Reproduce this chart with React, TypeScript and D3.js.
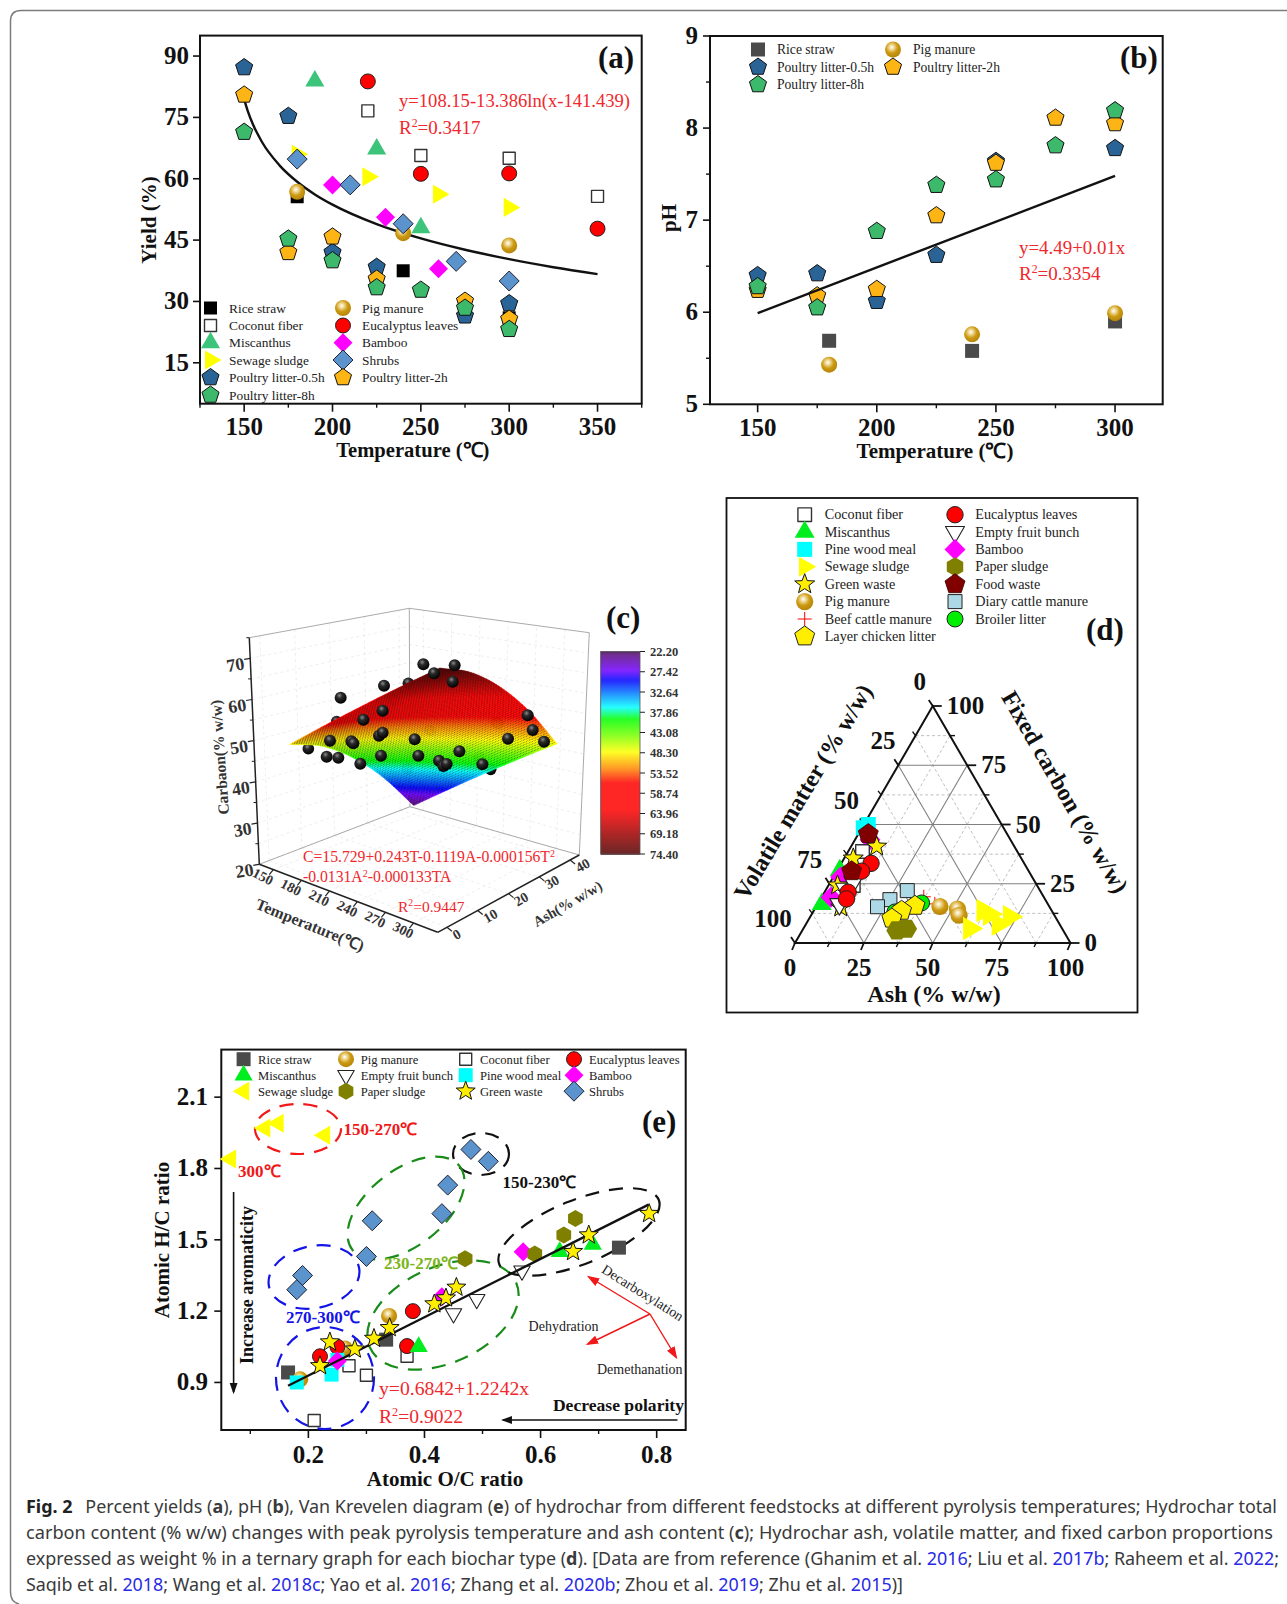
import React, { useMemo } from "react";
import * as d3 from "d3";

// ---------- Panel (a): yield vs temperature ----------
const aRiceT = [180, 240, 300]; const aRiceY = [55.6, 37.5, 26];
const aCocoT = [220, 250, 300, 350]; const aCocoY = [76.6, 65.7, 65, 55.7];
const aMiscT = [190, 225, 250]; const aMiscY = [83.9, 67.3, 48];
const aSewT = [180, 220, 260, 300]; const aSewY = [66, 60.5, 56.2, 53];
const aP05T = [150, 175, 200, 225, 275, 300]; const aP05Y = [87.2, 75.3, 42, 38.4, 26.5, 29.5];
const aP2T = [150, 175, 200, 225, 275, 300]; const aP2Y = [80.5, 42, 45.8, 35.5, 30.1, 25.7];
const aP8T = [150, 175, 200, 225, 250, 275, 300]; const aP8Y = [71.4, 45.3, 40, 33.4, 32.8, 28.4, 23.2];
const aPigT = [180, 240, 300]; const aPigY = [56.8, 46.7, 43.7];
const aEucT = [220, 250, 300, 350]; const aEucY = [83.8, 61.2, 61.3, 47.8];
const aBamT = [200, 230, 260]; const aBamY = [58.5, 50.6, 38];
const aShrT = [180, 210, 240, 270, 300]; const aShrY = [64.8, 58.5, 49, 39.8, 35];
const aFitT = [150, 152, 155, 160, 170, 180, 190, 200, 225, 250, 275, 300, 325, 350];
const aFitY = [79.4, 76.6, 73.25, 69.05, 63.28, 59.26, 56.17, 53.67, 48.91, 45.41, 42.64, 40.34, 38.37, 36.67];
const aXTicks = [150, 200, 250, 300, 350];
const aXMinor = [125, 175, 225, 275, 325, 375];
const aYTicks = [15, 30, 45, 60, 75, 90];

// ---------- Panel (b): pH vs temperature ----------
const bRiceT = [180, 240, 300]; const bRiceY = [5.69, 5.58, 5.9];
const bPigT = [180, 240, 300]; const bPigY = [5.43, 5.76, 5.99];
const bP05T = [150, 175, 200, 225, 250, 300]; const bP05Y = [6.4, 6.42, 6.12, 6.62, 7.64, 7.78];
const bP2T = [150, 175, 200, 225, 250, 275, 300]; const bP2Y = [6.24, 6.18, 6.25, 7.05, 7.62, 8.11, 8.05];
const bP8T = [150, 175, 200, 225, 250, 275, 300]; const bP8Y = [6.28, 6.05, 6.88, 7.38, 7.44, 7.81, 8.19];
const bFitT = [150, 300]; const bFitY = [5.99, 7.48];
const bXTicks = [150, 200, 250, 300];
const bXMinor = [175, 225, 275];
const bYTicks = [5, 6, 7, 8, 9];
const bYMinor = [5.5, 6.5, 7.5, 8.5];

// ---------- Panel (c): response surface ----------
const cTGrid = [150, 175, 200, 225, 250, 275, 300];
const cAGrid = [0, 10, 20, 30, 40];
const cZ150 = [48.67, 46.04, 40.79, 32.92, 22.44];
const cZ175 = [53.48, 50.82, 45.54, 37.63, 27.11];
const cZ200 = [58.09, 55.39, 50.08, 42.14, 31.59];
const cZ225 = [62.51, 59.78, 54.43, 46.46, 35.88];
const cZ250 = [66.73, 63.97, 58.59, 50.59, 39.96];
const cZ275 = [70.76, 67.96, 62.55, 54.51, 43.86];
const cZ300 = [74.59, 71.76, 66.31, 58.25, 47.56];
const cZRows = [cZ150, cZ175, cZ200, cZ225, cZ250, cZ275, cZ300];
const cZTicks = [20, 30, 40, 50, 60, 70];
const cZMinor = [25, 35, 45, 55, 65, 75];
const cTTicks = [150, 180, 210, 240, 270, 300];
const cATicks = [0, 10, 20, 30, 40];
const cBarLabels = ["22.20", "27.42", "32.64", "37.86", "43.08", "48.30", "53.52", "58.74", "63.96", "69.18", "74.40"];
const cBarValues = [22.2, 23, 27, 29.5, 33, 36.5, 39.5, 44, 48, 52.5, 56, 63, 69, 74.4];
const cBarColors = ["#3a0a50", "#5a0a80", "#7000ff", "#0000ff", "#0080ff", "#00ffff", "#00ff00", "#80ff00", "#ffff00", "#ff8000", "#ff0000", "#ff0000", "#a00000", "#500000"];
// balls on a 1500 x 1140 picture grid
const cBehindU = [440, 610, 355, 655, 720, 918, 925, 867, 902, 652];
const cBehindV = [395, 330, 476, 280, 422, 398, 402, 501, 538, 536];
const cFrontU = [452, 700, 794, 732, 788, 582, 578, 520, 420, 410, 445, 484, 490, 511, 567, 578, 573, 674, 685, 747, 760, 770, 808, 877, 954, 1013, 1028, 1062];
const cFrontV = [323, 223, 226, 250, 275, 287, 362, 389, 452, 500, 503, 454, 460, 521, 437, 428, 497, 448, 497, 512, 528, 522, 484, 523, 446, 376, 420, 455];

// ---------- Panel (d): ternary (fixed carbon, ash) ----------
const dMiscF = [16.4, 30.7]; const dMiscA = [1.5, 0.9];
const dBamF = [19.3, 27.9, 43.6]; const dBamA = [3.4, 2.6, 5.4];
const dPineF = [50, 48.6]; const dPineA = [1.6, 0.5];
const dCocoF = [38.6, 24.3]; const dCocoA = [5.2, 9];
const dStarF = [40.7, 35.7, 15, 24.3]; const dStarA = [9.3, 3.3, 9.1, 3.3];
const dEfbF = [22.9, 25.7, 16.4]; const dEfbA = [6.7, 8.3, 7.9];
const dEucF = [33.6, 30.3, 21.4, 18.6]; const dEucA = [10.8, 9, 8.6, 9.4];
const dFoodF = [46, 30.3]; const dFoodA = [3.6, 5.4];
const dDairyF = [22.1, 18.3, 15.3]; const dDairyA = [29.7, 25.3, 22.3];
const dBroF = [16.9, 13.1, 13.6]; const dBroA = [37.5, 29.7, 31.3];
const dLayF = [15.7, 13.6, 10.3]; const dLayA = [35.7, 31.9, 30];
const dPapF = [5.3, 6]; const dPapA = [34.3, 37.5];
const dPigF = [15.4, 14.3, 11.7]; const dPigA = [44.9, 51.8, 53.7];
const dBeefF = [19.5, 16.5]; const dBeefA = [37, 42.5];
const dSewF = [6.1, 13.6, 7.9, 11.1, 12.1]; const dSewA = [60.4, 61.5, 69.9, 72.4, 64.6];
const dMajor = [25, 50, 75];
const dDashed = [12.5, 37.5, 62.5, 87.5];
const dTickLabels = [0, 25, 50, 75, 100];

// ---------- Panel (e): Van Krevelen ----------
const eRiceX = [0.165, 0.334, 0.735]; const eRiceY = [0.942, 1.08, 1.467];
const ePigX = [0.186, 0.263, 0.339]; const ePigY = [0.913, 1.043, 1.18];
const eCocoX = [0.21, 0.27, 0.3, 0.37]; const eCocoY = [0.74, 0.97, 0.93, 1.01];
const eEucX = [0.22, 0.25, 0.37, 0.38]; const eEucY = [1.01, 1.05, 1.053, 1.2];
const eMiscX = [0.39, 0.633, 0.69]; const eMiscY = [1.05, 1.45, 1.48];
const eEfbX = [0.45, 0.49, 0.568]; const eEfbY = [1.19, 1.25, 1.37];
const ePineX = [0.18, 0.24, 0.25]; const ePineY = [0.9, 0.933, 0.995];
const eBamX = [0.25, 0.43, 0.57]; const eBamY = [0.99, 1.26, 1.45];
const eSewX = [0.066, 0.125, 0.148, 0.228]; const eSewY = [1.84, 1.97, 1.99, 1.94];
const ePapX = [0.47, 0.59, 0.64, 0.66]; const ePapY = [1.42, 1.44, 1.52, 1.59];
const eStarX = [0.22, 0.237, 0.28, 0.313, 0.34, 0.417, 0.437, 0.455, 0.656, 0.683, 0.787];
const eStarY = [0.97, 1.07, 1.04, 1.085, 1.13, 1.23, 1.255, 1.3, 1.45, 1.52, 1.61];
const eShrX = [0.18, 0.19, 0.3, 0.31, 0.43, 0.44, 0.48, 0.51]; const eShrY = [1.29, 1.35, 1.43, 1.58, 1.61, 1.73, 1.88, 1.83];
const eFitX = [0.165, 0.786]; const eFitY = [0.886, 1.648];
const eXTicks = [0.2, 0.4, 0.6, 0.8];
const eXMinor = [0.1, 0.3, 0.5, 0.7];
const eYTicks = [0.9, 1.2, 1.5, 1.8, 2.1];

// ---------- Styles ----------
const SERIF = "'Liberation Serif','Times New Roman',serif";
const reg = (n: number, r: number, start: number, ry = r) => {
  const pts: string[] = [];
  for (let i = 0; i < n; i++) {
    const a = ((start + (i * 360) / n) * Math.PI) / 180;
    pts.push(`${(r * Math.cos(a)).toFixed(2)},${(ry * Math.sin(a)).toFixed(2)}`);
  }
  return "M" + pts.join("L") + "Z";
};
const starPath = (r: number) => {
  const pts: string[] = [];
  for (let i = 0; i < 10; i++) {
    const a = ((-90 + i * 36) * Math.PI) / 180;
    const q = i % 2 ? r * 0.42 : r;
    pts.push(`${(q * Math.cos(a)).toFixed(2)},${(q * Math.sin(a)).toFixed(2)}`);
  }
  return "M" + pts.join("L") + "Z";
};
type Spec = { d?: string; r?: number; fill: string; stroke?: string; sw?: number; plus?: number };
const sq = (h: number) => `M${-h},${-h}H${h}V${h}H${-h}Z`;
const S = {
  riceA: { d: sq(6.5), fill: "#000" },
  rice: { d: sq(7), fill: "#4a4a4a" },
  coco: { d: sq(6), fill: "#fff", stroke: "#333", sw: 1.4 },
  miscA: { d: reg(3, 11, -90), fill: "#3cc47a" },
  miscE: { d: reg(3, 10.5, -90), fill: "#00ee20" },
  sewR: { d: reg(3, 11, 0), fill: "#ffff00" },
  sewL: { d: reg(3, 11, 180), fill: "#ffff00" },
  p05: { d: reg(5, 9, -90), fill: "#2a6496", stroke: "#111", sw: 1 },
  p2: { d: reg(5, 9, -90), fill: "#fdb515", stroke: "#111", sw: 1 },
  p8: { d: reg(5, 9, -90), fill: "#3cb96b", stroke: "#111", sw: 1 },
  pig: { r: 8, fill: "url(#ballGold)" },
  euc: { r: 7.5, fill: "#ff0000", stroke: "#222", sw: 1 },
  bam: { d: reg(4, 9.5, -90), fill: "#ff00ff" },
  shr: { d: reg(4, 10, -90), fill: "#5b93cc", stroke: "#223", sw: 1 },
  pine: { d: sq(7), fill: "#00ffff" },
  efb: { d: reg(3, 9.5, 90), fill: "#fff", stroke: "#222", sw: 1.1 },
  pap: { d: reg(6, 8.5, -90), fill: "#808000" },
  star: { d: starPath(10), fill: "#ffee00", stroke: "#111", sw: 1 },
  // panel (d) draws its marks larger
  dCoco: { d: sq(6.8), fill: "#fff", stroke: "#333", sw: 1.4 },
  dMisc: { d: reg(3, 11.5, -90), fill: "#00ee20" },
  dPine: { d: sq(7.5), fill: "#00ffff" },
  dSew: { d: reg(3, 13.5, 0), fill: "#ffff00" },
  dStar: { d: starPath(10.5), fill: "#ffee00", stroke: "#111", sw: 1 },
  dPig: { r: 8.6, fill: "url(#ballGold)" },
  dEuc: { r: 8.2, fill: "#ff0000", stroke: "#222", sw: 1 },
  dEfb: { d: reg(3, 11, 90), fill: "#fff", stroke: "#222", sw: 1.1 },
  dBam: { d: reg(4, 10.5, -90), fill: "#ff00ff" },
  dPap: { d: reg(6, 10.5, 0), fill: "#808000" },
  food: { d: reg(5, 10.5, -90), fill: "#800000", stroke: "#400000", sw: 0.8 },
  dairy: { d: sq(7), fill: "#add8e6", stroke: "#222", sw: 1 },
  bro: { r: 8, fill: "#00ee00", stroke: "#222", sw: 1 },
  lay: { d: reg(5, 10.5, -90), fill: "#ffee00", stroke: "#222", sw: 1 },
  beef: { plus: 7, fill: "none", stroke: "#ff0000", sw: 1 },
} as Record<string, Spec>;

const Mark = ({ s, x, y }: { s: Spec; x: number; y: number }) => {
  if (s.plus)
    return <path transform={`translate(${x},${y})`} d={`M${-s.plus},0H${s.plus}M0,${-s.plus}V${s.plus}`} stroke={s.stroke} strokeWidth={s.sw} fill="none" />;
  if (s.r) return <circle cx={x} cy={y} r={s.r} fill={s.fill} stroke={s.stroke} strokeWidth={s.sw} />;
  return <path transform={`translate(${x},${y})`} d={s.d} fill={s.fill} stroke={s.stroke} strokeWidth={s.sw} strokeLinejoin="round" />;
};
const Series = ({ s, xs, ys, fx, fy }: any) => (
  <g>{xs.map((v: number, i: number) => <Mark key={i} s={s} x={fx(v)} y={fy(ys[i])} />)}</g>
);
const T = ({ x, y, children, size = 13, bold = false, anchor = "start", fill = "#111", rot, ...rest }: any) => (
  <text x={x} y={y} fontSize={size} fontWeight={bold ? 700 : 400} textAnchor={anchor} fill={fill} fontFamily={SERIF}
    transform={rot !== undefined ? `rotate(${rot} ${x} ${y})` : undefined} {...rest}>{children}</text>
);
const R2 = ({ x, y, v, size = 18, fill = "#f0282d" }: any) => (
  <T x={x} y={y} size={size} fill={fill}>R<tspan dy={-size * 0.36} fontSize={size * 0.62}>2</tspan><tspan dy={size * 0.36}>={v}</tspan></T>
);
const Legend = ({ items, size = 13 }: { items: [Spec, string, number, number, number][]; size?: number }) => (
  <g>{items.map(([s, label, mx, tx, y], i) => (
    <g key={i}><Mark s={s} x={mx} y={y} /><T x={tx} y={y + 4.5} size={size} fill="#222">{label}</T></g>
  ))}</g>
);

const Frame = ({ fx, fy, xT, xM, yT, yM = [], yFmt = (v: number) => String(v), xFmt = (v: number) => String(v), xLabelY, yLabelX }: any) => {
  const [x0, x1] = fx.range(); const [y0, y1] = fy.range();
  return (
    <g>
      <rect x={x0} y={y1} width={x1 - x0} height={y0 - y1} fill="none" stroke="#111" strokeWidth={2} />
      {xT.map((v: number) => <line key={v} x1={fx(v)} x2={fx(v)} y1={y0} y2={y0 + 8} stroke="#111" strokeWidth={1.6} />)}
      {xM.map((v: number) => <line key={v} x1={fx(v)} x2={fx(v)} y1={y0} y2={y0 + 4} stroke="#111" strokeWidth={1.4} />)}
      {yT.map((v: number) => <line key={v} x1={x0} x2={x0 - 7} y1={fy(v)} y2={fy(v)} stroke="#111" strokeWidth={1.6} />)}
      {yM.map((v: number) => <line key={v} x1={x0} x2={x0 - 4} y1={fy(v)} y2={fy(v)} stroke="#111" strokeWidth={1.4} />)}
      {xT.map((v: number) => <T key={v} x={fx(v)} y={xLabelY} size={25} bold anchor="middle">{xFmt(v)}</T>)}
      {yT.map((v: number) => <T key={v} x={yLabelX} y={fy(v) + 8} size={25} bold anchor="end">{yFmt(v)}</T>)}
    </g>
  );
};

// ---------- Panel (a) ----------
const PanelA = () => {
  const fx = d3.scaleLinear().domain([125, 375]).range([200, 641.7]);
  const fy = d3.scaleLinear().domain([5, 95]).range([403.7, 35.6]);
  const line = d3.line<number>().x((d) => fx(d)).y((_, i) => fy(aFitY[i])).curve(d3.curveMonotoneX);
  const rows = [308, 325.5, 342.7, 360, 377.5, 395];
  const lx = 210.5, tx = 229, lx2 = 343, tx2 = 362;
  return (
    <g>
      <Frame fx={fx} fy={fy} xT={aXTicks} xM={aXMinor} yT={aYTicks} xLabelY={435} yLabelX={189} />
      <path d={line(aFitT) as string} fill="none" stroke="#111" strokeWidth={2.4} />
      <Series s={S.riceA} xs={aRiceT} ys={aRiceY} fx={fx} fy={fy} />
      <Series s={S.coco} xs={aCocoT} ys={aCocoY} fx={fx} fy={fy} />
      <Series s={S.miscA} xs={aMiscT} ys={aMiscY} fx={fx} fy={fy} />
      <Series s={S.sewR} xs={aSewT} ys={aSewY} fx={fx} fy={fy} />
      <Series s={S.p05} xs={aP05T} ys={aP05Y} fx={fx} fy={fy} />
      <Series s={S.p2} xs={aP2T} ys={aP2Y} fx={fx} fy={fy} />
      <Series s={S.p8} xs={aP8T} ys={aP8Y} fx={fx} fy={fy} />
      <Series s={S.pig} xs={aPigT} ys={aPigY} fx={fx} fy={fy} />
      <Series s={S.euc} xs={aEucT} ys={aEucY} fx={fx} fy={fy} />
      <Series s={S.bam} xs={aBamT} ys={aBamY} fx={fx} fy={fy} />
      <Series s={S.shr} xs={aShrT} ys={aShrY} fx={fx} fy={fy} />
      <Legend size={13.4} items={[
        [S.riceA, "Rice straw", lx, tx, rows[0]], [S.coco, "Coconut fiber", lx, tx, rows[1]], [S.miscA, "Miscanthus", lx, tx, rows[2]],
        [S.sewR, "Sewage sludge", lx, tx, rows[3]], [S.p05, "Poultry litter-0.5h", lx, tx, rows[4]], [S.p8, "Poultry litter-8h", lx, tx, rows[5]],
        [S.pig, "Pig manure", lx2, tx2, rows[0]], [S.euc, "Eucalyptus leaves", lx2, tx2, rows[1]], [S.bam, "Bamboo", lx2, tx2, rows[2]],
        [S.shr, "Shrubs", lx2, tx2, rows[3]], [S.p2, "Poultry litter-2h", lx2, tx2, rows[4]],
      ]} />
      <T x={399} y={107} size={18.6} fill="#f0282d">y=108.15-13.386ln(x-141.439)</T>
      <R2 x={399} y={134} v="0.3417" size={19} />
      <T x={598} y={68} size={31} bold>(a)</T>
      <T x={156} y={220} size={21} bold anchor="middle" rot={-90}>Yield (%)</T>
      <T x={412.8} y={457} size={20.6} bold anchor="middle">Temperature (℃)</T>
    </g>
  );
};

// ---------- Panel (b) ----------
const PanelB = () => {
  const fx = d3.scaleLinear().domain([130, 320]).range([710, 1162.7]);
  const fy = d3.scaleLinear().domain([5, 9]).range([404.3, 36]);
  const line = d3.line<number>().x((d) => fx(d)).y((_, i) => fy(bFitY[i]));
  const r = [49.5, 67, 84.5];
  const lx = 758, tx = 777, lx2 = 893, tx2 = 913;
  return (
    <g>
      <Frame fx={fx} fy={fy} xT={bXTicks} xM={bXMinor} yT={bYTicks} yM={bYMinor} xLabelY={436} yLabelX={698} />
      <Series s={S.rice} xs={bRiceT} ys={bRiceY} fx={fx} fy={fy} />
      <Series s={S.pig} xs={bPigT} ys={bPigY} fx={fx} fy={fy} />
      <Series s={S.p05} xs={bP05T} ys={bP05Y} fx={fx} fy={fy} />
      <Series s={S.p2} xs={bP2T} ys={bP2Y} fx={fx} fy={fy} />
      <Series s={S.p8} xs={bP8T} ys={bP8Y} fx={fx} fy={fy} />
      <path d={line(bFitT) as string} fill="none" stroke="#111" strokeWidth={2.4} />
      <Legend size={13.6} items={[
        [S.rice, "Rice straw", lx, tx, r[0]], [S.p05, "Poultry litter-0.5h", lx, tx, r[1]], [S.p8, "Poultry litter-8h", lx, tx, r[2]],
        [S.pig, "Pig manure", lx2, tx2, r[0]], [S.p2, "Poultry litter-2h", lx2, tx2, r[1]],
      ]} />
      <T x={1019} y={254} size={18.9} fill="#f0282d">y=4.49+0.01x</T>
      <R2 x={1019} y={280} v="0.3354" size={19} />
      <T x={1120} y={68} size={31} bold>(b)</T>
      <T x={676} y={218} size={21} bold anchor="middle" rot={-90}>pH</T>
      <T x={935} y={458} size={21} bold anchor="middle">Temperature (℃)</T>
    </g>
  );
};

// ---------- Panel (c) ----------
const T0 = 135, T1 = 326, A0 = -3, A1 = 43, Z0 = 20, Z1 = 75;
// projected box corners [T?][A?][Z?]
const BOX = {
  f000: [259.3, 864.3], f100: [437.7, 932.3], f110: [579.3, 855], f010: [410, 806.7],
  t000: [249.3, 637.7], t100: [438.3, 675.7], t110: [589.3, 632.7], t010: [409.3, 608.3],
};
const lerp = (a: number, b: number, t: number) => a + (b - a) * t;
const fTT = d3.scaleLinear().domain([T0, T1]).range([0, 1]);
const fTS = d3.scaleLinear().domain([135.4, 318.4]).range([0, 1]);
const fAA = d3.scaleLinear().domain([A0, A1]).range([0, 1]);
const fAS = d3.scaleLinear().domain([-6.75, 43.25]).range([0, 1]);
const fZZ = d3.scaleLinear().domain([Z0, Z1]).range([0, 1]);
const proj = (Tv: number, Av: number, Zv: number, ts: any = fTT, as: any = fAA): [number, number] => {
  const u = ts(Tv), v = as(Av), w = fZZ(Zv);
  const bi = (a: number[], b: number[], c: number[], d: number[], k: number) =>
    lerp(lerp(a[k], b[k], u), lerp(d[k], c[k], u), v);
  const out = [0, 1].map((k) => lerp(bi(BOX.f000, BOX.f100, BOX.f110, BOX.f010, k), bi(BOX.t000, BOX.t100, BOX.t110, BOX.t010, k), w));
  return [out[0], out[1]];
};
const cr = (p: number[], t: number) => {
  // Catmull-Rom through a row of read values, t in index units
  const n = p.length - 1;
  const i = Math.min(Math.max(Math.floor(t), 0), n - 1);
  const f = t - i;
  const p0 = p[i], p1 = p[i + 1];
  const pm = i > 0 ? p[i - 1] : 2 * p0 - p1;
  const pp = i + 2 <= n ? p[i + 2] : 2 * p1 - p0;
  return 0.5 * (2 * p0 + (p1 - pm) * f + (2 * pm - 5 * p0 + 4 * p1 - pp) * f * f + (3 * p0 - pm - 3 * p1 + pp) * f * f * f);
};
const surf = (ti: number, ai: number) => cr(cZRows.map((row) => cr(row, ai)), ti);

const PanelC = () => {
  const color = d3.scaleLinear<string>().domain(cBarValues).range(cBarColors).clamp(true);
  const NT = 96, NA = 72;
  const mesh = useMemo(() => {
    const quads: { d: string; c: string; o: number }[] = [];
    const grid: { p: [number, number]; z: number }[][] = [];
    const tIdx = d3.scaleLinear().domain([0, NT]).range([0, cTGrid.length - 1]);
    const aIdx = d3.scaleLinear().domain([0, NA]).range([0, cAGrid.length - 1]);
    const tVal = d3.scaleLinear().domain([0, cTGrid.length - 1]).range([cTGrid[0], cTGrid[cTGrid.length - 1]]);
    const aVal = d3.scaleLinear().domain([0, cAGrid.length - 1]).range([cAGrid[0], cAGrid[cAGrid.length - 1]]);
    for (let i = 0; i <= NT; i++) {
      const row = [];
      for (let j = 0; j <= NA; j++) {
        const z = surf(tIdx(i), aIdx(j));
        row.push({ p: proj(tVal(tIdx(i)), aVal(aIdx(j)), z, fTS, fAS), z });
      }
      grid.push(row);
    }
    for (let i = 0; i < NT; i++) for (let j = 0; j < NA; j++) {
      const a = grid[i][j], b = grid[i + 1][j], c = grid[i + 1][j + 1], e = grid[i][j + 1];
      quads.push({
        d: `M${a.p[0].toFixed(1)},${a.p[1].toFixed(1)}L${b.p[0].toFixed(1)},${b.p[1].toFixed(1)}L${c.p[0].toFixed(1)},${c.p[1].toFixed(1)}L${e.p[0].toFixed(1)},${e.p[1].toFixed(1)}Z`,
        c: color((a.z + c.z) / 2) as string,
        o: i / NT - j / NA,
      });
    }
    quads.sort((p, q) => p.o - q.o);
    let dots = "";
    for (let i = 1; i < NT; i++) for (let j = 1; j < NA; j++) {
      const p = grid[i][j].p;
      dots += `M${p[0].toFixed(1)},${p[1].toFixed(1)}h0.01`;
    }
    return { quads, dots };
  }, []);

  const P = (t: number, a: number, z: number) => proj(t, a, z);
  const L = (a: [number, number], b: [number, number], k: any) => <line x1={a[0]} y1={a[1]} x2={b[0]} y2={b[1]} {...k} />;
  const wall = { stroke: "#e6e6e6", strokeWidth: 0.7, strokeDasharray: "3 3" };
  const edge = { stroke: "#aaa", strokeWidth: 1 };
  const ax = { stroke: "#222", strokeWidth: 1.5 };
  const bu = d3.scaleLinear().domain([0, 1500]).range([190, 690]);
  const bv = d3.scaleLinear().domain([0, 1140]).range([590, 970]);
  const by = d3.scaleLinear().domain([0, cBarLabels.length - 1]).range([651.5, 854]);
  const barV = d3.scaleLinear().domain([651.5, 854]).range([22.2, 74.4]);
  return (
    <g>
      {/* walls */}
      {[...cZTicks, ...cZMinor.slice(0, 5)].map((z) => (
        <g key={z}>{L(P(T0, A0, z), P(T0, A1, z), wall)}{L(P(T0, A1, z), P(T1, A1, z), wall)}</g>
      ))}
      {cTTicks.map((t) => <g key={t}>{L(P(t, A1, Z0), P(t, A1, Z1), wall)}{L(P(t, A0, Z0), P(t, A1, Z0), wall)}</g>)}
      {cATicks.map((a) => <g key={a}>{L(P(T0, a, Z0), P(T0, a, Z1), wall)}{L(P(T0, a, Z0), P(T1, a, Z0), wall)}</g>)}
      {L(P(T0, A0, Z1), P(T0, A1, Z1), edge)}{L(P(T0, A1, Z1), P(T1, A1, Z1), edge)}
      {L(P(T0, A1, Z0), P(T0, A1, Z1), edge)}{L(P(T1, A1, Z0), P(T1, A1, Z1), edge)}
      {L(P(T0, A0, Z0), P(T0, A1, Z0), edge)}{L(P(T1, A1, Z0), P(T0, A1, Z0), edge)}
      {/* balls behind */}
      {cBehindU.map((u, i) => <circle key={i} cx={bu(u)} cy={bv(cBehindV[i])} r={5.8} fill="url(#ballBlack)" />)}
      {/* surface */}
      {mesh.quads.map((q, i) => <path key={i} d={q.d} fill={q.c} stroke={q.c} strokeWidth={0.5} />)}
      <path d={mesh.dots} stroke="#1a1a1a" strokeOpacity={0.55} strokeWidth={1.05} strokeLinecap="round" fill="none" />
      {/* balls in front */}
      {cFrontU.map((u, i) => <circle key={i} cx={bu(u)} cy={bv(cFrontV[i])} r={6} fill="url(#ballBlack)" />)}
      {/* axes */}
      {L(P(T0, A0, Z0), P(T0, A0, Z1), ax)}{L(P(T0, A0, Z0), P(T1, A0, Z0), ax)}{L(P(T1, A0, Z0), P(T1, A1, Z0), ax)}
      {cZTicks.map((z) => { const p = P(T0, A0, z); return (
        <g key={z}><line x1={p[0]} y1={p[1]} x2={p[0] - 6} y2={p[1] + 1} stroke="#222" strokeWidth={1.2} />
          <T x={p[0] - 5} y={p[1] + 11} size={18} bold anchor="end" fill="#333" rot={-9}>{z}</T></g>
      ); })}
      {cZMinor.map((z) => { const p = P(T0, A0, z); return <line key={z} x1={p[0]} y1={p[1]} x2={p[0] - 3} y2={p[1]} stroke="#222" strokeWidth={1} />; })}
      {cTTicks.map((t) => { const p = P(t, A0, Z0); return (
        <g key={t}><line x1={p[0]} y1={p[1]} x2={p[0] - 4} y2={p[1] + 5} stroke="#222" strokeWidth={1.2} />
          <T x={p[0] - 3} y={p[1] + 16} size={14} bold anchor="end" fill="#333" rot={27}>{t}</T></g>
      ); })}
      {cATicks.map((a) => { const p = P(T1, a, Z0); return (
        <g key={a}><line x1={p[0]} y1={p[1]} x2={p[0] + 5} y2={p[1] + 4} stroke="#222" strokeWidth={1.2} />
          <T x={p[0] + 9} y={p[1] + 13} size={14} bold fill="#333" rot={-30}>{a}</T></g>
      ); })}
      <T x={225} y={757} size={15.5} bold anchor="middle" rot={-94} fill="#333">Carbaon(% w/w)</T>
      <T x={308} y={930} size={16} bold anchor="middle" rot={22} fill="#333">Temperature(℃)</T>
      <T x={570} y={908} size={14.5} bold anchor="middle" rot={-30} fill="#333">Ash(% w/w)</T>
      <T x={303} y={862} size={15.7} fill="#f0282d">C=15.729+0.243T-0.1119A-0.000156T<tspan dy={-5} fontSize={10}>2</tspan></T>
      <T x={303} y={882} size={15.7} fill="#f0282d">-0.0131A<tspan dy={-5} fontSize={10}>2</tspan><tspan dy={5}>-0.000133TA</tspan></T>
      <R2 x={398} y={912} v="0.9447" size={15.5} />
      <T x={606} y={628} size={31} bold>(c)</T>
      {/* colour bar */}
      {d3.range(651.5, 854, 1).map((y) => <rect key={y} x={600.7} y={y} width={39.3} height={1.2} fill={color(barV(y)) as string} />)}
      <rect x={600.7} y={651.5} width={39.3} height={202.5} fill="none" stroke="#555" strokeWidth={0.8} />
      {cBarLabels.map((l, i) => (
        <g key={l}>
          <line x1={640} x2={645} y1={by(i)} y2={by(i)} stroke="#222" strokeWidth={1} />
          <T x={650} y={by(i) + 4.5} size={12.5} bold fill="#333">{l}</T>
        </g>
      ))}
    </g>
  );
};

// ---------- Panel (d) ----------
const PanelD = () => {
  const x0 = 795, x1 = 1070.5, yB = 943, yT = 706;
  const sx = d3.scaleLinear().domain([0, 100]).range([x0, x1]);
  const sy = d3.scaleLinear().domain([0, 100]).range([yB, yT]);
  const X = (f: number, a: number) => sx(a + f / 2);
  const Y = (f: number) => sy(f);
  const Sd = ({ s, fs, as }: { s: Spec; fs: number[]; as: number[] }) => (
    <g>{fs.map((f, i) => <Mark key={i} s={s} x={X(f, as[i])} y={Y(f)} />)}</g>
  );
  const gridLines = (v: number, st: any) => (
    <g key={v}>
      <line x1={X(v, 0)} y1={Y(v)} x2={X(v, 100 - v)} y2={Y(v)} {...st} />
      <line x1={X(0, v)} y1={Y(0)} x2={X(100 - v, v)} y2={Y(100 - v)} {...st} />
      <line x1={X(0, 100 - v)} y1={Y(0)} x2={X(100 - v, 0)} y2={Y(100 - v)} {...st} />
    </g>
  );
  const solid = { stroke: "#808080", strokeWidth: 1.1 };
  const dash = { stroke: "#b8b8b8", strokeWidth: 0.9, strokeDasharray: "3 2.5" };
  const lc1 = 804.7, tc1 = 824.7, lc2 = 955, tc2 = 975.3;
  const rr = [514.7, 532, 549.4, 566.8, 584.2, 601.6, 619, 636.4];
  const tick = { stroke: "#111", strokeWidth: 1.8 };
  const leftLabelPos = (v: number) => [X(100 - v, 0) - 13 + (v / 100) * -9, Y(100 - v) - 24];
  return (
    <g>
      <rect x={726.5} y={498} width={411} height={514.5} fill="none" stroke="#111" strokeWidth={1.8} />
      <Legend size={14.2} items={[
        [S.dCoco, "Coconut fiber", lc1, tc1, rr[0]], [S.dMisc, "Miscanthus", lc1, tc1, rr[1]], [S.dPine, "Pine wood meal", lc1, tc1, rr[2]],
        [{ ...S.dSew, d: reg(3, 11.5, 0) }, "Sewage sludge", lc1, tc1, rr[3]], [S.dStar, "Green waste", lc1, tc1, rr[4]], [S.dPig, "Pig manure", lc1, tc1, rr[5]],
        [S.beef, "Beef cattle manure", lc1, tc1, rr[6]], [S.lay, "Layer chicken litter", lc1, tc1, rr[7]],
        [S.dEuc, "Eucalyptus leaves", lc2, tc2, rr[0]], [S.dEfb, "Empty fruit bunch", lc2, tc2, rr[1]], [S.dBam, "Bamboo", lc2, tc2, rr[2]],
        [{ ...S.dPap, d: reg(6, 9.5, -90) }, "Paper sludge", lc2, tc2, rr[3]], [S.food, "Food waste", lc2, tc2, rr[4]], [S.dairy, "Diary cattle manure", lc2, tc2, rr[5]],
        [S.bro, "Broiler litter", lc2, tc2, rr[6]],
      ]} />
      <T x={1086} y={640} size={31} bold>(d)</T>
      {dDashed.map((v) => gridLines(v, dash))}
      {dMajor.map((v) => gridLines(v, solid))}
      <path d={`M${sx(0)},${Y(0)}L${X(100, 0)},${Y(100)}L${sx(100)},${Y(0)}Z`} fill="none" stroke="#111" strokeWidth={2} />
      {dTickLabels.map((v) => (
        <g key={v}>
          <line x1={sx(v)} y1={yB} x2={sx(v) - 3} y2={yB + 7} {...tick} />
          <line x1={X(v, 100 - v)} y1={Y(v)} x2={X(v, 100 - v) + 9} y2={Y(v)} {...tick} />
          <line x1={X(100 - v, 0)} y1={Y(100 - v)} x2={X(100 - v, 0) - 4} y2={Y(100 - v) - 6} {...tick} />
          <T x={sx(v) - 5} y={yB + 33} size={25} bold anchor="middle">{v}</T>
          <T x={X(v, 100 - v) + 14} y={Y(v) + 8} size={25} bold>{v}</T>
          <T x={leftLabelPos(v)[0]} y={leftLabelPos(v)[1] + 8} size={25} bold anchor="middle">{v}</T>
        </g>
      ))}
      {dDashed.map((v) => (
        <g key={v}>
          <line x1={sx(v)} y1={yB} x2={sx(v) - 2} y2={yB + 4} {...tick} strokeWidth={1.4} />
          <line x1={X(v, 100 - v)} y1={Y(v)} x2={X(v, 100 - v) + 5} y2={Y(v)} {...tick} strokeWidth={1.4} />
          <line x1={X(100 - v, 0)} y1={Y(100 - v)} x2={X(100 - v, 0) - 3} y2={Y(100 - v) - 4} {...tick} strokeWidth={1.4} />
        </g>
      ))}
      <Sd s={S.beef} fs={dBeefF} as={dBeefA} />
      <Sd s={S.dPine} fs={dPineF} as={dPineA} />
      <Sd s={S.dMisc} fs={dMiscF} as={dMiscA} />
      <Sd s={S.dBam} fs={dBamF} as={dBamA} />
      <Sd s={S.dCoco} fs={dCocoF} as={dCocoA} />
      <Sd s={S.dStar} fs={dStarF} as={dStarA} />
      <Sd s={S.dEfb} fs={dEfbF} as={dEfbA} />
      <Sd s={S.dEuc} fs={dEucF} as={dEucA} />
      <Sd s={S.food} fs={dFoodF} as={dFoodA} />
      <Sd s={S.dairy} fs={dDairyF} as={dDairyA} />
      <Sd s={S.bro} fs={dBroF} as={dBroA} />
      <Sd s={S.lay} fs={dLayF} as={dLayA} />
      <Sd s={S.dPap} fs={dPapF} as={dPapA} />
      <Sd s={S.dPig} fs={dPigF} as={dPigA} />
      <Sd s={S.dSew} fs={dSewF} as={dSewA} />
      <T x={934} y={1002} size={24} bold anchor="middle">Ash (% w/w)</T>
      <T x={810} y={796} size={24} bold anchor="middle" rot={-59}>Volatile matter (% w/w)</T>
      <T x={1058} y={796} size={24} bold anchor="middle" rot={60}>Fixed carbon (% w/w)</T>
    </g>
  );
};

// ---------- Panel (e) ----------
const PanelE = () => {
  const fx = d3.scaleLinear().domain([0.05, 0.85]).range([221.3, 685.7]);
  const fy = d3.scaleLinear().domain([0.7, 2.3]).range([1430, 1049.6]);
  const line = d3.line<number>().x((d) => fx(d)).y((_, i) => fy(eFitY[i]));
  const rows = [1059.2, 1075.2, 1091.2];
  const c = [[243.6, 258], [346, 360.7], [465.7, 480], [574, 589]];
  const it = (s: Spec, label: string, col: number, row: number) => [s, label, c[col][0], c[col][1], rows[row]] as [Spec, string, number, number, number];
  const ell = (cx: number, cy: number, rx: number, ry: number, rot: number, col: string) => (
    <ellipse cx={cx} cy={cy} rx={rx} ry={ry} transform={`rotate(${rot} ${cx} ${cy})`} fill="none" stroke={col} strokeWidth={2.2} strokeDasharray="14 10" />
  );
  const arrow = (x1: number, y1: number, x2: number, y2: number, m: string, col: string, w: number) => (
    <line x1={x1} y1={y1} x2={x2} y2={y2} stroke={col} strokeWidth={w} markerEnd={`url(#${m})`} />
  );
  return (
    <g>
      <Frame fx={fx} fy={fy} xT={eXTicks} xM={eXMinor} yT={eYTicks} xFmt={(v: number) => v.toFixed(1)} yFmt={(v: number) => v.toFixed(1)} xLabelY={1463} yLabelX={208} />
      {ell(298, 1129, 43, 25, 0, "#f01818")}
      {ell(481, 1154, 28, 21, 0, "#111")}
      {ell(406, 1208, 68, 38, -38, "#1a8c1a")}
      {ell(443, 1315, 80, 48, -24, "#1a8c1a")}
      {ell(314, 1277, 46, 31, -12, "#1414e6")}
      {ell(325, 1378, 49, 51, 0, "#1414e6")}
      {ell(579, 1232, 86, 32, -22, "#111")}
      <Series s={S.rice} xs={eRiceX} ys={eRiceY} fx={fx} fy={fy} />
      <Series s={S.pig} xs={ePigX} ys={ePigY} fx={fx} fy={fy} />
      <Series s={S.coco} xs={eCocoX} ys={eCocoY} fx={fx} fy={fy} />
      <Series s={S.euc} xs={eEucX} ys={eEucY} fx={fx} fy={fy} />
      <Series s={S.miscE} xs={eMiscX} ys={eMiscY} fx={fx} fy={fy} />
      <Series s={S.efb} xs={eEfbX} ys={eEfbY} fx={fx} fy={fy} />
      <Series s={S.pine} xs={ePineX} ys={ePineY} fx={fx} fy={fy} />
      <Series s={S.bam} xs={eBamX} ys={eBamY} fx={fx} fy={fy} />
      <Series s={S.sewL} xs={eSewX} ys={eSewY} fx={fx} fy={fy} />
      <Series s={S.pap} xs={ePapX} ys={ePapY} fx={fx} fy={fy} />
      <path d={line(eFitX) as string} fill="none" stroke="#111" strokeWidth={2.4} />
      <Series s={S.star} xs={eStarX} ys={eStarY} fx={fx} fy={fy} />
      <Series s={S.shr} xs={eShrX} ys={eShrY} fx={fx} fy={fy} />
      <Legend size={12.6} items={[
        it(S.rice, "Rice straw", 0, 0), it(S.miscE, "Miscanthus", 0, 1), it(S.sewL, "Sewage sludge", 0, 2),
        it(S.pig, "Pig manure", 1, 0), it(S.efb, "Empty fruit bunch", 1, 1), it(S.pap, "Paper sludge", 1, 2),
        it(S.coco, "Coconut fiber", 2, 0), it(S.pine, "Pine wood meal", 2, 1), it(S.star, "Green waste", 2, 2),
        it(S.euc, "Eucalyptus leaves", 3, 0), it(S.bam, "Bamboo", 3, 1), it(S.shr, "Shrubs", 3, 2),
      ]} />
      <T x={642} y={1132} size={31} bold>(e)</T>
      <T x={343.6} y={1135} size={17} bold fill="#f01818">150-270℃</T>
      <T x={238} y={1177} size={17} bold fill="#f01818">300℃</T>
      <T x={502.5} y={1188} size={17} bold>150-230℃</T>
      <T x={384} y={1269} size={17} bold fill="#7db51c">230-270℃</T>
      <T x={286} y={1323} size={17} bold fill="#1414e6">270-300℃</T>
      <T x={379} y={1395} size={19.7} fill="#f0282d">y=0.6842+1.2242x</T>
      <R2 x={379} y={1423} v="0.9022" size={19.6} />
      <T x={684} y={1411} size={17.6} bold anchor="end">Decrease polarity</T>
      {arrow(677.5, 1420, 503, 1420, "arrBlack", "#111", 1.6)}
      {arrow(233.6, 1192, 233.6, 1392, "arrBlack", "#111", 1.6)}
      <T x={253} y={1285} size={18} bold anchor="middle" rot={-90}>Increase aromaticity</T>
      <T x={169} y={1240} size={21} bold anchor="middle" rot={-90}>Atomic H/C ratio</T>
      <T x={445} y={1486} size={21} bold anchor="middle">Atomic O/C ratio</T>
      {arrow(650, 1314, 589, 1277, "arrRed", "#f01818", 1.4)}
      {arrow(650, 1314, 588, 1344, "arrRed", "#f01818", 1.4)}
      {arrow(650, 1314, 676, 1357, "arrRed", "#f01818", 1.4)}
      <T x={600.7} y={1272} size={14} fill="#222" rot={32}>Decarboxylation</T>
      <T x={528.6} y={1331} size={14} fill="#222">Dehydration</T>
      <T x={597} y={1374} size={14} fill="#222">Demethanation</T>
    </g>
  );
};

// ---------- Caption ----------
const CAP = { fontFamily: "'Noto Sans','Open Sans',sans-serif", fontSize: 17.5, fill: "#3a3a3a" };
const BLUE = "#2a2ae6";
const Caption = () => (
  <g {...CAP}>
    <text x={26} y={1513} textLength={1251} lengthAdjust="spacingAndGlyphs">
      <tspan fontWeight={700} fill="#222">Fig. 2</tspan><tspan dx={8}>{" Percent yields ("}</tspan><tspan fontWeight={700}>a</tspan>{"), pH ("}<tspan fontWeight={700}>b</tspan>{"), Van Krevelen diagram ("}<tspan fontWeight={700}>e</tspan>{") of hydrochar from different feedstocks at different pyrolysis temperatures; Hydrochar total"}
    </text>
    <text x={26} y={1539} textLength={1247} lengthAdjust="spacingAndGlyphs">
      {"carbon content (% w/w) changes with peak pyrolysis temperature and ash content ("}<tspan fontWeight={700}>c</tspan>{"); Hydrochar ash, volatile matter, and fixed carbon proportions"}
    </text>
    <text x={26} y={1565} textLength={1253} lengthAdjust="spacingAndGlyphs">
      {"expressed as weight % in a ternary graph for each biochar type ("}<tspan fontWeight={700}>d</tspan>{"). [Data are from reference (Ghanim et al. "}<tspan fill={BLUE}>2016</tspan>{"; Liu et al. "}<tspan fill={BLUE}>2017b</tspan>{"; Raheem et al. "}<tspan fill={BLUE}>2022</tspan>{";"}
    </text>
    <text x={26} y={1591} textLength={877} lengthAdjust="spacingAndGlyphs">
      {"Saqib et al. "}<tspan fill={BLUE}>2018</tspan>{"; Wang et al. "}<tspan fill={BLUE}>2018c</tspan>{"; Yao et al. "}<tspan fill={BLUE}>2016</tspan>{"; Zhang et al. "}<tspan fill={BLUE}>2020b</tspan>{"; Zhou et al. "}<tspan fill={BLUE}>2019</tspan>{"; Zhu et al. "}<tspan fill={BLUE}>2015</tspan>{")]"}
    </text>
  </g>
);

export default function App() {
  return (
    <svg width={1287} height={1604} viewBox="0 0 1287 1604" style={{ position: "absolute", left: 0, top: 0, background: "#fff", display: "block" }}>
      <defs>
        <radialGradient id="ballGold" cx="0.42" cy="0.36" r="0.62">
          <stop offset="0" stopColor="#ffffff" />
          <stop offset="0.22" stopColor="#f2dca0" />
          <stop offset="0.6" stopColor="#cc9a10" />
          <stop offset="1" stopColor="#b8860b" />
        </radialGradient>
        <radialGradient id="ballBlack" cx="0.4" cy="0.32" r="0.68">
          <stop offset="0" stopColor="#8a8a8a" />
          <stop offset="0.35" stopColor="#2a2a2a" />
          <stop offset="1" stopColor="#000" />
        </radialGradient>
        <marker id="arrBlack" viewBox="0 0 10 10" refX="8" refY="5" markerWidth="7" markerHeight="7" orient="auto">
          <path d="M0,1.5L10,5L0,8.5Z" fill="#111" />
        </marker>
        <marker id="arrRed" viewBox="0 0 10 10" refX="8" refY="5" markerWidth="9" markerHeight="9" orient="auto">
          <path d="M0,1.5L10,5L0,8.5Z" fill="#f01818" />
        </marker>
      </defs>
      <path d="M1287,10.5H21Q10.5,10.5 10.5,21V1592Q10.5,1602 19,1604" fill="none" stroke="#7c7c7c" strokeWidth={1.5} />
      <PanelA />
      <PanelB />
      <PanelC />
      <PanelD />
      <PanelE />
      <Caption />
    </svg>
  );
}
